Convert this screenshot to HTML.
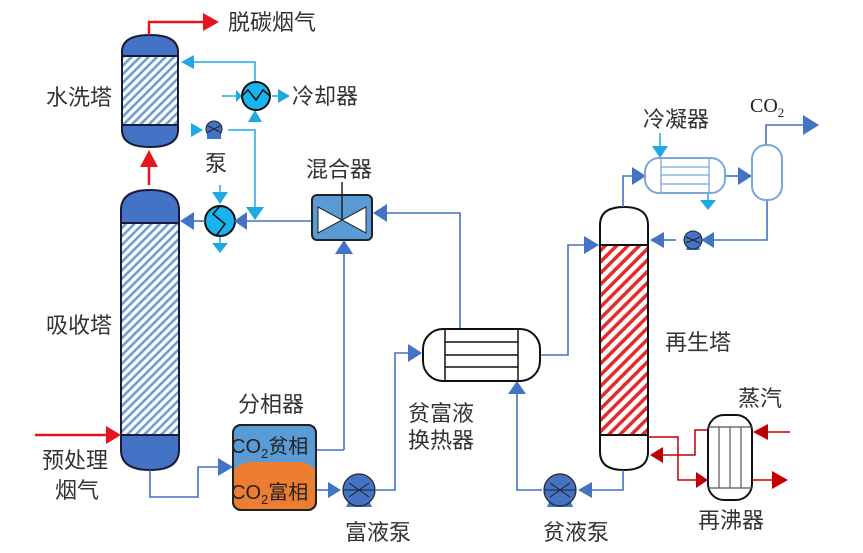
<!DOCTYPE html>
<html><head><meta charset="utf-8"><style>
html,body{margin:0;padding:0;background:#fff}
svg{display:block}
text{font-family:"Liberation Sans","Noto Sans CJK SC",sans-serif;fill:#333;font-size:22px}
</style></head><body>
<svg width="863" height="553" viewBox="0 0 863 553" xmlns="http://www.w3.org/2000/svg">
<defs>
<pattern id="hb" patternUnits="userSpaceOnUse" width="6" height="6" patternTransform="rotate(45)">
<rect width="6" height="6" fill="#fff"/><rect width="2.6" height="6" fill="#6f9fd0"/></pattern>
<pattern id="hr" patternUnits="userSpaceOnUse" width="8" height="8" patternTransform="rotate(45)">
<rect width="8" height="8" fill="#fff"/><rect width="3.5" height="8" fill="#e52b2b"/></pattern>
</defs>
<g stroke-linejoin="round">
<path d="M122,56 L122,52 Q122,35 150,35 Q178,35 178,52 L178,56 Z" fill="#4472c4" stroke="#1a1a3a" stroke-width="2"/>
<rect x="122" y="56" width="56" height="69" fill="url(#hb)" stroke="#1a1a3a" stroke-width="2"/>
<path d="M122,125 L178,125 L178,130 Q178,147 150,147 Q122,147 122,130 Z" fill="#4472c4" stroke="#1a1a3a" stroke-width="2"/>
<path d="M121,223 L121,210 Q121,190 150,190 Q179,190 179,210 L179,223 Z" fill="#4472c4" stroke="#1a1a3a" stroke-width="2"/>
<rect x="121" y="223" width="58" height="212" fill="url(#hb)" stroke="#1a1a3a" stroke-width="2"/>
<path d="M121,435 L179,435 L179,450 Q179,470 150,470 Q121,470 121,450 Z" fill="#4472c4" stroke="#1a1a3a" stroke-width="2"/>
<path d="M600,245 L600,225 Q600,207 624,207 Q648,207 648,225 L648,245 Z" fill="#fff" stroke="#111" stroke-width="2"/>
<rect x="600" y="245" width="48" height="190" fill="url(#hr)" stroke="#111" stroke-width="2"/>
<path d="M600,435 L648,435 L648,452 Q648,470 624,470 Q600,470 600,452 Z" fill="#fff" stroke="#111" stroke-width="2"/>
</g>
<g stroke="#e8141b" stroke-width="2.5" fill="none">
<path d="M149,35 L149,22 L205,22"/>
<path d="M149,167 L149,185"/>
<path d="M35,435 L110,435"/>
</g>
<g fill="#e8141b">
<polygon points="203,13 219,22 203,31"/>
<polygon points="140,167 149,150 158,167"/>
<polygon points="106,426 121,435 106,444"/>
</g>
<g stroke="#c00000" stroke-width="1.5" fill="none">
<path d="M648,437 L678,437 L678,480 L700,480"/>
<path d="M660,455 L695,455 L695,430 L708,430"/>
<path d="M768,432 L790,432"/>
<path d="M752,480 L775,480"/>
</g>
<g fill="#c00000">
<polygon points="696,472 708,480 696,488"/>
<polygon points="663,447 650,455 663,463"/>
<polygon points="768,424 753,432 768,440"/>
<polygon points="772,471 788,480 772,489"/>
</g>
<rect x="708" y="415" width="44" height="85" rx="16" fill="#fff" stroke="#111" stroke-width="2"/>
<g stroke="#555" stroke-width="1.2"><line x1="708" y1="427" x2="752" y2="427"/><line x1="708" y1="488" x2="752" y2="488"/>
<line x1="719" y1="427" x2="719" y2="488"/><line x1="730" y1="427" x2="730" y2="488"/><line x1="741" y1="427" x2="741" y2="488"/></g>
<g stroke="#1ea9e5" stroke-width="1.5" fill="none">
<path d="M255,82 L255,62 L192,62"/>
<path d="M222,96 L238,96"/>
<path d="M272,96 L280,96"/>
<path d="M228,130 L255,130 L255,212"/>
<path d="M255,110 L255,122"/>
<path d="M220,185 L220,200"/>
<path d="M220,236 L220,245"/>
<path d="M660,133 L660,150"/>
<path d="M708,193 L708,202"/>
</g>
<g fill="#1ea9e5">
<polygon points="194,55 181,62 194,69"/>
<polygon points="236,90 242,96 236,102"/>
<polygon points="278,89 290,96 278,103"/>
<polygon points="248,122 255,110 262,122"/>
<polygon points="246,207 255,220 264,207"/>
<polygon points="191,123 203,130 191,137"/>
<polygon points="212,192 220,204 228,192"/>
<polygon points="212,243 220,253 228,243"/>
<polygon points="652,146 660,158 668,146"/>
<polygon points="700,200 708,210 716,200"/>
</g>
<circle cx="256" cy="96" r="14" fill="#18b4ee" stroke="#111" stroke-width="2"/>
<path d="M242,96 L248,90 L256,100 L263,90 L270,96" stroke="#111" stroke-width="1.5" fill="none"/>
<circle cx="214" cy="129" r="8" fill="#4472c4" stroke="#222" stroke-width="1"/>
<rect x="207" y="134" width="14" height="5" fill="#4472c4"/>
<path d="M208,126 L220,132 M208,132 L220,126" stroke="#222" stroke-width="1"/>
<circle cx="220" cy="221" r="15" fill="#18b4ee" stroke="#111" stroke-width="2"/>
<path d="M220,206 L213,214 L225,224 L216,236" stroke="#111" stroke-width="1.5" fill="none"/>
<g stroke="#4472c4" stroke-width="1.6" fill="none">
<path d="M205,221 L192,221"/>
<path d="M312,221 L245,221"/>
<path d="M460,329 L460,213 L385,213"/>
<path d="M344,450 L344,252"/>
<path d="M316,450 L344,450"/>
<path d="M150,470 L150,497 L198,497 L198,467 L220,467"/>
<path d="M316,490 L332,490"/>
<path d="M376,490 L395,490 L395,353 L410,353"/>
<path d="M540,355 L568,355 L568,245 L585,245"/>
<path d="M517,393 L517,490 L542,490"/>
<path d="M623,470 L623,490 L590,490"/>
<path d="M623,207 L623,176 L632,176"/>
<path d="M725,176 L740,176"/>
<path d="M766,145 L766,125 L805,125"/>
<path d="M767,200 L767,240 L712,240"/>
<path d="M676,240 L662,240"/>
</g>
<g fill="#4472c4">
<polygon points="194,212 180,221 194,230"/>
<polygon points="247,212 234,221 247,230"/>
<polygon points="387,204 373,213 387,222"/>
<polygon points="335,254 344,240 353,254"/>
<polygon points="218,458 233,467 218,476"/>
<polygon points="328,482 341,490 328,498"/>
<polygon points="408,344 422,353 408,362"/>
<polygon points="584,236 599,245 584,254"/>
<polygon points="508,394 517,381 526,394"/>
<polygon points="592,482 578,490 592,498"/>
<polygon points="632,167 646,176 632,185"/>
<polygon points="738,167 752,176 738,185"/>
<polygon points="803,115 819,125 803,135"/>
<polygon points="714,232 701,240 714,248"/>
<polygon points="664,232 650,240 664,248"/>
</g>
<rect x="312" y="195" width="60" height="45" rx="5" fill="#5b9bd5" stroke="#222" stroke-width="2"/>
<polygon points="318,207 342,220 318,233" fill="#fff" stroke="#222" stroke-width="1"/>
<polygon points="366,207 342,220 366,233" fill="#fff" stroke="#222" stroke-width="1"/>
<line x1="342" y1="182" x2="342" y2="220" stroke="#222" stroke-width="1.5"/>
<rect x="233" y="425" width="83" height="85" rx="8" fill="#ed7d31" stroke="#222" stroke-width="2"/>
<path d="M234,426 L315,426 L315,470 Q310,463 300,462 L250,462 Q240,463 234,470 Z" fill="#5b9bd5"/>
<rect x="233" y="425" width="83" height="85" rx="8" fill="none" stroke="#222" stroke-width="2"/>
<text x="231" y="453" style="fill:#222;font-size:20px">CO<tspan font-size="13" dy="5">2</tspan><tspan dy="-5">贫相</tspan></text>
<text x="231" y="499" style="fill:#222;font-size:20px">CO<tspan font-size="13" dy="5">2</tspan><tspan dy="-5">富相</tspan></text>
<g>
<path d="M346,507 L372,507 L368,498 L350,498 Z" fill="#4472c4"/>
<circle cx="359" cy="490" r="16" fill="#4472c4" stroke="#222" stroke-width="1.2"/>
<path d="M343,490 L375,490 M349,483 L369,497 M349,497 L369,483" stroke="#222" stroke-width="1"/>
<path d="M547,507 L573,507 L569,498 L551,498 Z" fill="#4472c4"/>
<circle cx="560" cy="490" r="16" fill="#4472c4" stroke="#222" stroke-width="1.2"/>
<path d="M544,490 L576,490 M550,483 L570,497 M550,497 L570,483" stroke="#222" stroke-width="1"/>
<path d="M686,250 L700,250 L698,244 L688,244 Z" fill="#4472c4"/>
<circle cx="693" cy="240" r="9" fill="#4472c4" stroke="#222" stroke-width="1"/>
<path d="M686,237 L700,243 M686,243 L700,237" stroke="#222" stroke-width="1"/>
</g>
<rect x="423" y="329" width="117" height="52" rx="20" fill="#fff" stroke="#111" stroke-width="2"/>
<g stroke="#111" stroke-width="1.5"><line x1="445" y1="330" x2="445" y2="380"/><line x1="518" y1="330" x2="518" y2="380"/>
<line x1="445" y1="342" x2="518" y2="342"/><line x1="445" y1="355" x2="518" y2="355"/><line x1="445" y1="367" x2="518" y2="367"/></g>
<rect x="645" y="158" width="80" height="35" rx="14" fill="#fff" stroke="#7aa7d8" stroke-width="2"/>
<g stroke="#7aa7d8" stroke-width="1.3"><line x1="661" y1="159" x2="661" y2="192"/><line x1="709" y1="159" x2="709" y2="192"/>
<line x1="661" y1="167" x2="709" y2="167"/><line x1="661" y1="175" x2="709" y2="175"/><line x1="661" y1="184" x2="709" y2="184"/></g>
<rect x="752" y="145" width="30" height="55" rx="14" fill="#fff" stroke="#7aa7d8" stroke-width="2"/>
<text x="228" y="30">脱碳烟气</text>
<text x="46" y="105">水洗塔</text>
<text x="292" y="104">冷却器</text>
<text x="205" y="171">泵</text>
<text x="306" y="177">混合器</text>
<text x="46" y="333">吸收塔</text>
<text x="42" y="468">预处理</text>
<text x="55" y="498">烟气</text>
<text x="238" y="412">分相器</text>
<text x="408" y="421">贫富液</text>
<text x="408" y="448">换热器</text>
<text x="345" y="540">富液泵</text>
<text x="543" y="540">贫液泵</text>
<text x="665" y="350">再生塔</text>
<text x="738" y="406">蒸汽</text>
<text x="698" y="528">再沸器</text>
<text x="643" y="127">冷凝器</text>
<text x="750" y="112" style="font-family:'Liberation Serif',serif;fill:#222;font-size:20px">CO<tspan font-size="13" dy="5">2</tspan></text>
</svg>
</body></html>
